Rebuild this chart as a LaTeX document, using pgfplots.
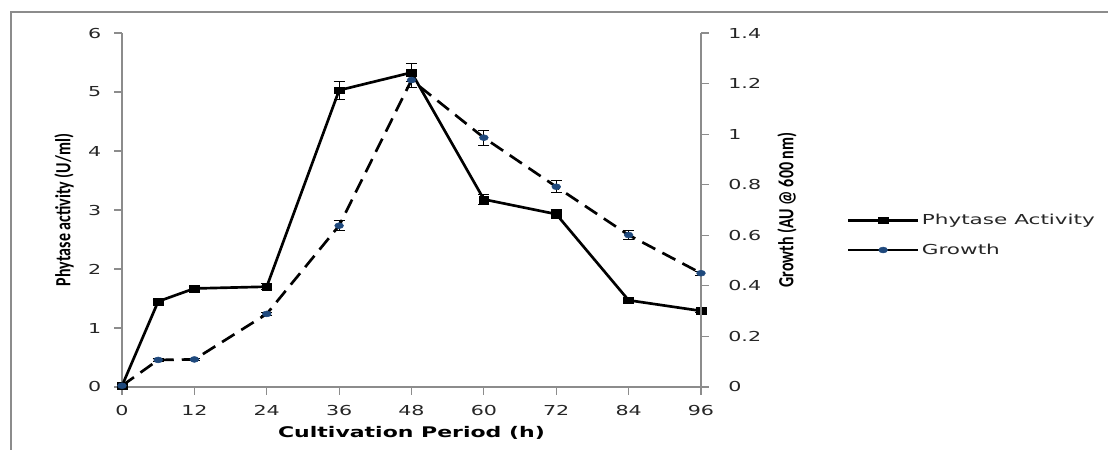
\documentclass[border=0pt]{standalone}
\usepackage{pgfplots}
\pgfplotsset{compat=1.18}
\usepackage{fontspec}
\setmainfont{DejaVu Sans}
\newfontfamily\calfont{Carlito}
\definecolor{axgray}{RGB}{140,140,140}
\definecolor{growthblue}{RGB}{31,73,125}
\newcommand{\hs}[1]{\scalebox{1.5}[1]{#1}}
\newcommand{\vs}[1]{\scalebox{1}[1.35]{#1}}

\pgfplotstableread{
x y e
0 0.02 0.01
6 1.45 0.03
12 1.67 0.04
24 1.70 0.05
36 5.03 0.15
48 5.33 0.15
60 3.18 0.09
72 2.93 0.08
84 1.47 0.04
96 1.29 0.02
}\phytase

\pgfplotstableread{
x y e
0 0.005 0.003
6 0.107 0.005
12 0.109 0.005
24 0.289 0.007
36 0.638 0.02
48 1.214 0.03
60 0.986 0.029
72 0.792 0.024
84 0.601 0.018
96 0.450 0.007
}\growth

\pgfplotsset{
  common/.style={
    at={(91.5pt,47.25pt)}, anchor=south west,
    scale only axis, width=434.25pt, height=265.5pt,
    xmin=0, xmax=96,
    tick align=outside, major tick length=6pt,
    axis line style={axgray, line width=0.9pt},
    every tick/.style={axgray, line width=0.9pt},
    tick label style={font=\fontsize{10.3}{12}\selectfont, text=black!85},
    /pgf/number format/assume math mode=true,
    xticklabel={\hs{\pgfmathprintnumber{\tick}}},
    yticklabel={\hs{\pgfmathprintnumber{\tick}}},
    legend image code/.code={\draw[##1,solid,mark repeat=2,mark phase=2] plot coordinates {(0pt,0pt) (26pt,0pt) (52pt,0pt)};},
  },
  phy/.style={black, line width=2pt, mark=square*, mark size=2.6pt, mark options={xscale=1.4, solid, fill=black, line width=0.4pt}},
  gro/.style={black, line width=2pt, dash pattern=on 11pt off 6pt, mark=*, mark size=2.2pt, mark options={xscale=1.5, solid, fill=growthblue, draw=growthblue, line width=0.4pt}},
  eb/.style={error bars/.cd, y dir=both, y explicit, error bar style={black, line width=0.7pt, solid}, error mark options={rotate=90, mark size=4.2pt, black, line width=0.7pt, solid}},
}

\begin{document}
\begin{tikzpicture}
\useasboundingbox (0,0) rectangle (831pt,337.5pt);
\draw[axgray, line width=1.1pt] (8.25pt,-5pt) -- (8.25pt,328.5pt) -- (840pt,328.5pt);

\begin{axis}[common,
  ymin=0, ymax=6,
  axis y line*=left, axis x line*=bottom,
  xtick={0,12,24,36,48,60,72,84,96}, ytick={0,1,2,3,4,5,6},
  xticklabel style={yshift=-4.5pt},
  yticklabel style={xshift=-6pt},
  xlabel={\hs{\bfseries Cultivation Period (h)}},
  xlabel style={font=\fontsize{11}{13}\selectfont, at={(axis description cs:0.5,-0.13)}, anchor=center},
  ylabel={\vs{\calfont\bfseries Phytase activity (U/ml)}},
  ylabel style={font=\fontsize{12}{14}\selectfont, at={(axis description cs:-0.1002,0.5)}, anchor=center},
]
\addplot[phy, eb] table[x=x, y=y, y error=e] {\phytase};
\end{axis}

\begin{axis}[common,
  ymin=0, ymax=1.4,
  axis y line*=right, axis x line=none,
  ytick={0,0.2,0.4,0.6,0.8,1,1.2,1.4},
  yticklabel style={xshift=11pt},
  ylabel={\vs{\calfont\bfseries Growth (AU @ 600 nm)}},
  ylabel style={font=\fontsize{12}{14}\selectfont, at={(axis description cs:1.1485,0.5)}, anchor=center},
  legend style={at={(axis description cs:1.252,0.429)}, anchor=west, draw=none, fill=none, inner sep=0pt, row sep=9pt, font=\fontsize{10.3}{12}\selectfont, text=black!85},
  legend cell align=left,
]
\addlegendimage{phy}
\addlegendentry{\scalebox{1.57}[1]{Phytase Activity}}
\addplot[gro, eb] table[x=x, y=y, y error=e] {\growth};
\addlegendentry{\scalebox{1.57}[1]{Growth}}
\end{axis}
\end{tikzpicture}
\end{document}
